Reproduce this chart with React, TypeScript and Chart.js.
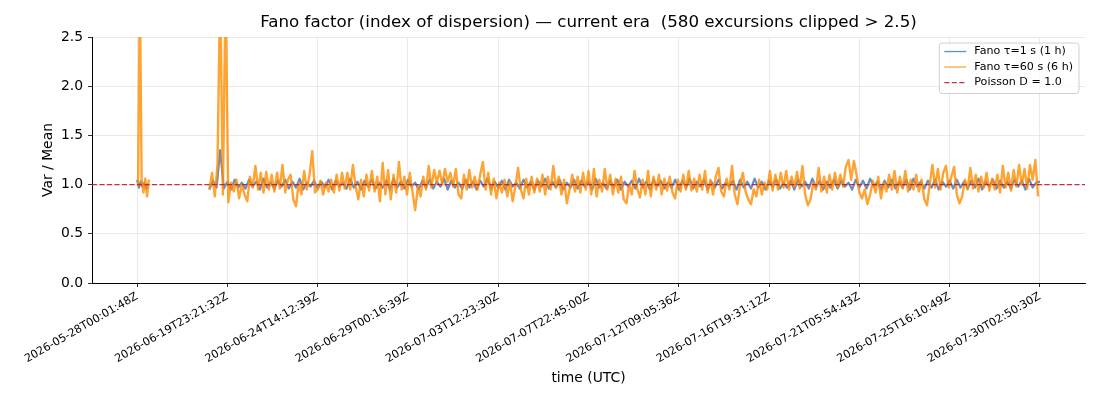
import { useEffect, useRef } from "react";
import Chart from "chart.js/auto";

// x axis: sample index, one tick label every 100 samples
const xTickLabels = [
  "2026-05-28T00:01:48Z",
  "2026-06-19T23:21:32Z",
  "2026-06-24T14:12:39Z",
  "2026-06-29T00:16:39Z",
  "2026-07-03T12:23:30Z",
  "2026-07-07T22:45:00Z",
  "2026-07-12T09:05:36Z",
  "2026-07-16T19:31:12Z",
  "2026-07-21T05:54:43Z",
  "2026-07-25T16:10:49Z",
  "2026-07-30T02:50:30Z",
];
const samplesPerTick = 100;

// Fano τ=1 s — short segment before the gap (from sample 0, every 2)
const blueHead = [1.05, 0.97, 1.03, 0.98, 1.02, 0.96, 1.01];
// Fano τ=1 s — main run (from sample 80, every 4)
const blueTail = [
  0.95, 1.04, 0.97, 1.35, 0.96, 1.03, 0.95, 1.05, 0.97, 1.02,
  0.96, 1.05, 0.98, 1.03, 0.95, 1.06, 0.97, 1.02, 0.96, 1.04,
  0.98, 1.05, 0.96, 1.03, 0.97, 1.06, 0.95, 1.02, 0.98, 1.04,
  0.96, 1.03, 0.97, 1.05, 0.95, 1.04, 0.98, 1.02, 0.96, 1.06,
  0.97, 1.03, 0.95, 1.04, 0.98, 1.05, 0.96, 1.02, 0.97, 1.04,
  0.95, 1.06, 0.97, 1.03, 0.96, 1.05, 0.98, 1.02, 0.95, 1.04,
  0.97, 1.05, 0.96, 1.03, 0.98, 1.06, 0.95, 1.04, 0.97, 1.02,
  0.96, 1.05, 0.97, 1.03, 0.95, 1.04, 0.98, 1.06, 0.96, 1.03,
  0.97, 1.04, 0.95, 1.05, 0.98, 1.02, 0.96, 1.05, 0.97, 1.03,
  0.95, 1.04, 0.98, 1.06, 0.96, 1.03, 0.97, 1.05, 0.95, 1.02,
  0.97, 1.05, 0.96, 1.04, 0.98, 1.03, 0.95, 1.06, 0.97, 1.02,
  0.96, 1.04, 0.97, 1.05, 0.95, 1.03, 0.98, 1.04, 0.96, 1.06,
  0.97, 1.03, 0.95, 1.05, 0.98, 1.04, 0.96, 1.02, 0.97, 1.05,
  0.95, 1.04, 0.97, 1.06, 0.96, 1.03, 0.98, 1.05, 0.95, 1.03,
  0.97, 1.05, 0.96, 1.02, 0.98, 1.04, 0.95, 1.05, 0.97, 1.03,
  0.96, 1.06, 0.97, 1.03, 0.95, 1.04, 0.98, 1.05, 0.96, 1.02,
  0.97, 1.04, 0.95, 1.05, 0.98, 1.03, 0.96, 1.06, 0.97, 1.04,
  0.95, 1.03, 0.97, 1.05, 0.96, 1.04, 0.98, 1.02, 0.95, 1.05,
  0.97, 1.04, 0.96, 1.06, 0.98, 1.03, 0.95, 1.04, 0.97, 1.05,
  0.96, 1.03, 0.97, 1.05, 0.95, 1.06, 0.98, 1.03, 0.96, 1.04,
  0.97, 1.05, 0.95, 1.03, 0.98, 1.04, 0.96, 1.05, 0.97, 1.03,
  0.96, 1.04, 0.97, 1.06, 0.95, 1.03, 0.98, 1.05, 0.96, 1.04,
  0.97, 1.03, 0.96, 1.05, 0.98, 1.04, 0.95, 1.06, 0.97, 1.02,
  1.03,
];

// Fano τ=60 s — short segment before the gap (from sample 1, every 2)
const orangeHead = [0.98, 3.0, 1.04, 0.92, 1.06, 0.88, 1.05];
// Fano τ=60 s — main run (from sample 80, every 3); 3.0 = clipped excursion
const orangeTail = [
  0.95, 1.12, 0.88, 1.2, 3.0, 0.9, 3.0, 0.82, 1.02, 0.93,
  1.05, 0.86, 1.0, 0.9, 0.83, 1.08, 0.97, 1.19, 0.95, 1.12,
  0.92, 1.13, 0.95, 1.1, 0.93, 1.12, 0.96, 1.2, 0.92, 1.05,
  1.1, 0.85, 0.78, 1.02, 0.9, 1.14, 0.95, 1.1, 1.34, 0.92,
  0.95, 1.04, 0.9, 1.02, 0.93, 1.05, 0.92, 1.1, 0.94, 1.12,
  0.96, 1.12, 0.95, 1.2, 0.98, 0.85, 1.05, 0.88, 1.1, 0.94,
  1.14, 0.93, 1.08, 0.83, 1.22, 0.9, 1.15, 0.85, 1.1, 0.92,
  1.23, 0.95, 1.08, 0.9, 1.12, 0.93, 0.74, 0.98, 0.88, 1.08,
  0.95, 1.19, 0.97, 1.15, 1.02, 1.14, 1.0, 1.16, 1.03, 1.12,
  0.98, 1.16, 0.9, 0.86, 1.1, 0.95, 1.15, 0.97, 1.08, 0.95,
  1.1, 1.23, 0.95, 1.12, 0.9, 1.06, 0.86, 1.02, 0.92, 1.05,
  0.88, 1.03, 0.83, 0.98, 1.17, 0.95, 0.86, 1.06, 0.9, 1.08,
  0.92, 1.06, 0.93, 1.1, 0.9, 1.08, 0.95, 1.19, 0.97, 1.08,
  0.9, 1.05, 0.81, 0.95, 1.1, 0.93, 1.08, 0.92, 1.12, 0.95,
  1.14, 0.9, 1.16, 0.88, 1.05, 0.93, 1.16, 0.95, 1.1, 0.9,
  1.06, 0.92, 1.08, 0.85, 0.81, 1.0, 0.9, 1.14, 0.96, 0.87,
  1.05, 0.9, 1.14, 0.88, 1.08, 0.95, 1.1, 0.9, 1.06, 0.94,
  1.08, 0.92, 0.86, 1.05, 0.93, 1.1, 0.95, 1.14, 0.94, 1.06,
  0.93, 1.1, 0.95, 1.14, 0.92, 1.05, 0.9, 1.08, 1.17, 0.93,
  0.88, 1.06, 0.95, 1.19, 0.9, 0.8, 1.0, 1.12, 0.93, 0.85,
  0.8, 0.95, 0.88, 1.05, 0.9, 1.02, 0.95, 1.14, 0.94, 1.1,
  0.95, 1.12, 0.97, 1.14, 0.95, 1.08, 0.98, 1.13, 0.96, 1.19,
  0.9, 0.79, 0.85, 1.02, 0.95, 1.17, 0.93, 1.08, 0.92, 1.1,
  0.95, 1.12, 0.97, 1.1, 0.98, 1.18, 1.25, 1.05, 1.24, 1.1,
  0.92, 0.86, 0.95, 0.8, 0.9, 1.04, 0.92, 1.08, 0.86, 1.02,
  0.93, 1.1, 0.95, 1.14, 0.92, 1.08, 0.96, 1.14, 0.93, 1.05,
  0.95, 1.1, 0.93, 1.05, 0.85, 0.79, 1.0, 1.2, 0.97, 1.16,
  0.95, 1.12, 1.19, 0.97, 1.08, 1.18, 0.9, 0.81, 0.88, 1.05,
  0.95, 1.17, 0.96, 1.1, 0.93, 1.08, 0.97, 1.12, 0.94, 1.06,
  0.95, 1.1, 0.92, 1.19, 0.97, 1.12, 0.94, 1.15, 0.98, 1.2,
  1.0, 1.16, 0.96, 1.2, 1.05, 1.25, 0.88,
];

const poissonLevel = 1.0;

function toPoints(start: number, step: number, values: number[]) {
  return values.map((y, i) => ({ x: start + i * step, y }));
}

// matplotlib-style framed legend in the upper right of the plot
const boxLegend = {
  id: "boxLegend",
  afterDraw(chart: any) {
    const { ctx, chartArea } = chart;
    const items = chart.data.datasets;
    ctx.save();
    ctx.font = '11.1px "DejaVu Sans"';
    const textW = Math.max(...items.map((d: any) => ctx.measureText(d.label).width));
    const rowH = 15.5;
    const w = 5 + 22 + 8 + textW + 6;
    const h = items.length * rowH + 4;
    const x0 = chartArea.right - 6 - w;
    const y0 = chartArea.top + 6;
    ctx.beginPath();
    ctx.roundRect(x0, y0, w, h, 3);
    ctx.fillStyle = "rgba(255,255,255,0.8)";
    ctx.fill();
    ctx.strokeStyle = "#d0d0d0";
    ctx.lineWidth = 1;
    ctx.stroke();
    items.forEach((d: any, i: number) => {
      const cy = y0 + 8.5 + i * rowH;
      ctx.beginPath();
      ctx.setLineDash(d.borderDash || []);
      ctx.strokeStyle = d.borderColor;
      ctx.lineWidth = 1.3;
      ctx.moveTo(x0 + 5, cy);
      ctx.lineTo(x0 + 27, cy);
      ctx.stroke();
      ctx.setLineDash([]);
      ctx.fillStyle = "#000";
      ctx.textBaseline = "middle";
      ctx.fillText(d.label, x0 + 35, cy);
    });
    ctx.restore();
  },
};

export default function App() {
  const canvasRef = useRef<HTMLCanvasElement>(null);
  const chartRef = useRef<Chart | null>(null);

  useEffect(() => {
    document.body.style.margin = "0";
    if (chartRef.current) chartRef.current.destroy();
    const ctx = canvasRef.current?.getContext("2d");
    if (!ctx) return;

    Chart.defaults.font.family = "'DejaVu Sans', sans-serif";
    Chart.defaults.color = "#000";

    const lastIndex = (xTickLabels.length - 1) * samplesPerTick;
    const margin = lastIndex * 0.05;

    chartRef.current = new Chart(ctx, {
      type: "line",
      data: {
        datasets: [
          {
            label: "Fano τ=1 s (1 h)",
            data: [...toPoints(0, 2, blueHead), { x: 40, y: null }, ...toPoints(80, 4, blueTail)],
            borderColor: "rgba(60, 115, 180, 0.8)",
            borderWidth: 2.2,
            borderJoinStyle: "round",
            pointRadius: 0,
            order: 3,
          },
          {
            label: "Fano τ=60 s (6 h)",
            data: [...toPoints(1, 2, orangeHead), { x: 40, y: null }, ...toPoints(80, 3, orangeTail)],
            borderColor: "rgba(255, 140, 0, 0.8)",
            borderWidth: 2.4,
            borderJoinStyle: "round",
            pointRadius: 0,
            order: 2,
          },
          {
            label: "Poisson D = 1.0",
            data: [
              { x: -margin, y: poissonLevel },
              { x: lastIndex + margin, y: poissonLevel },
            ],
            borderColor: "rgba(205, 20, 45, 0.9)",
            borderDash: [5, 2.5],
            borderWidth: 1.3,
            pointRadius: 0,
            order: 1,
          },
        ],
      },
      options: {
        responsive: true,
        maintainAspectRatio: false,
        animation: false,
        layout: { padding: { left: 0, right: 15, top: 0, bottom: 0 } },
        plugins: {
          legend: { display: false },
          tooltip: { enabled: false },
          title: {
            display: true,
            fullSize: false,
            text: "Fano factor (index of dispersion) — current era  (580 excursions clipped > 2.5)",
            font: { size: 16.7, weight: "normal" },
            color: "#000",
            padding: { top: 13, bottom: 4 },
          },
        },
        scales: {
          x: {
            type: "linear",
            min: -margin,
            max: lastIndex + margin,
            afterBuildTicks: (scale: any) => {
              scale.ticks = xTickLabels.map((_, i) => ({ value: i * samplesPerTick }));
            },
            afterFit: (scale: any) => {
              scale.height = 117;
            },
            ticks: {
              autoSkip: false,
              minRotation: 30,
              maxRotation: 30,
              padding: 3,
              font: { size: 11.1 },
              color: "#000",
              callback: (v: any) => xTickLabels[Math.round(Number(v) / samplesPerTick)] ?? "",
            },
            grid: { color: "#e3e3e3", lineWidth: 0.8, tickColor: "#000", tickLength: 4 },
            border: { display: true, color: "#000", width: 1 },
            title: {
              display: true,
              text: "time (UTC)",
              font: { size: 13.9 },
              color: "#000",
              padding: { top: 0, bottom: 13 },
            },
          },
          y: {
            min: 0,
            max: 2.5,
            afterFit: (scale: any) => {
              scale.width = 92;
            },
            ticks: {
              stepSize: 0.5,
              padding: 5,
              font: { size: 13.9 },
              color: "#000",
              callback: (v: any) => Number(v).toFixed(1),
            },
            grid: { color: "#e3e3e3", lineWidth: 0.8, tickColor: "#000", tickLength: 4 },
            border: { display: true, color: "#000", width: 1 },
            title: {
              display: true,
              text: "Var / Mean",
              font: { size: 13.9 },
              color: "#000",
              padding: { top: 40, bottom: 0 },
            },
          },
        },
      },
      plugins: [boxLegend],
    });

    return () => {
      if (chartRef.current) {
        chartRef.current.destroy();
        chartRef.current = null;
      }
    };
  }, []);

  return (
    <div style={{ width: 1100, height: 400, position: "relative" }}>
      <canvas ref={canvasRef} />
    </div>
  );
}
